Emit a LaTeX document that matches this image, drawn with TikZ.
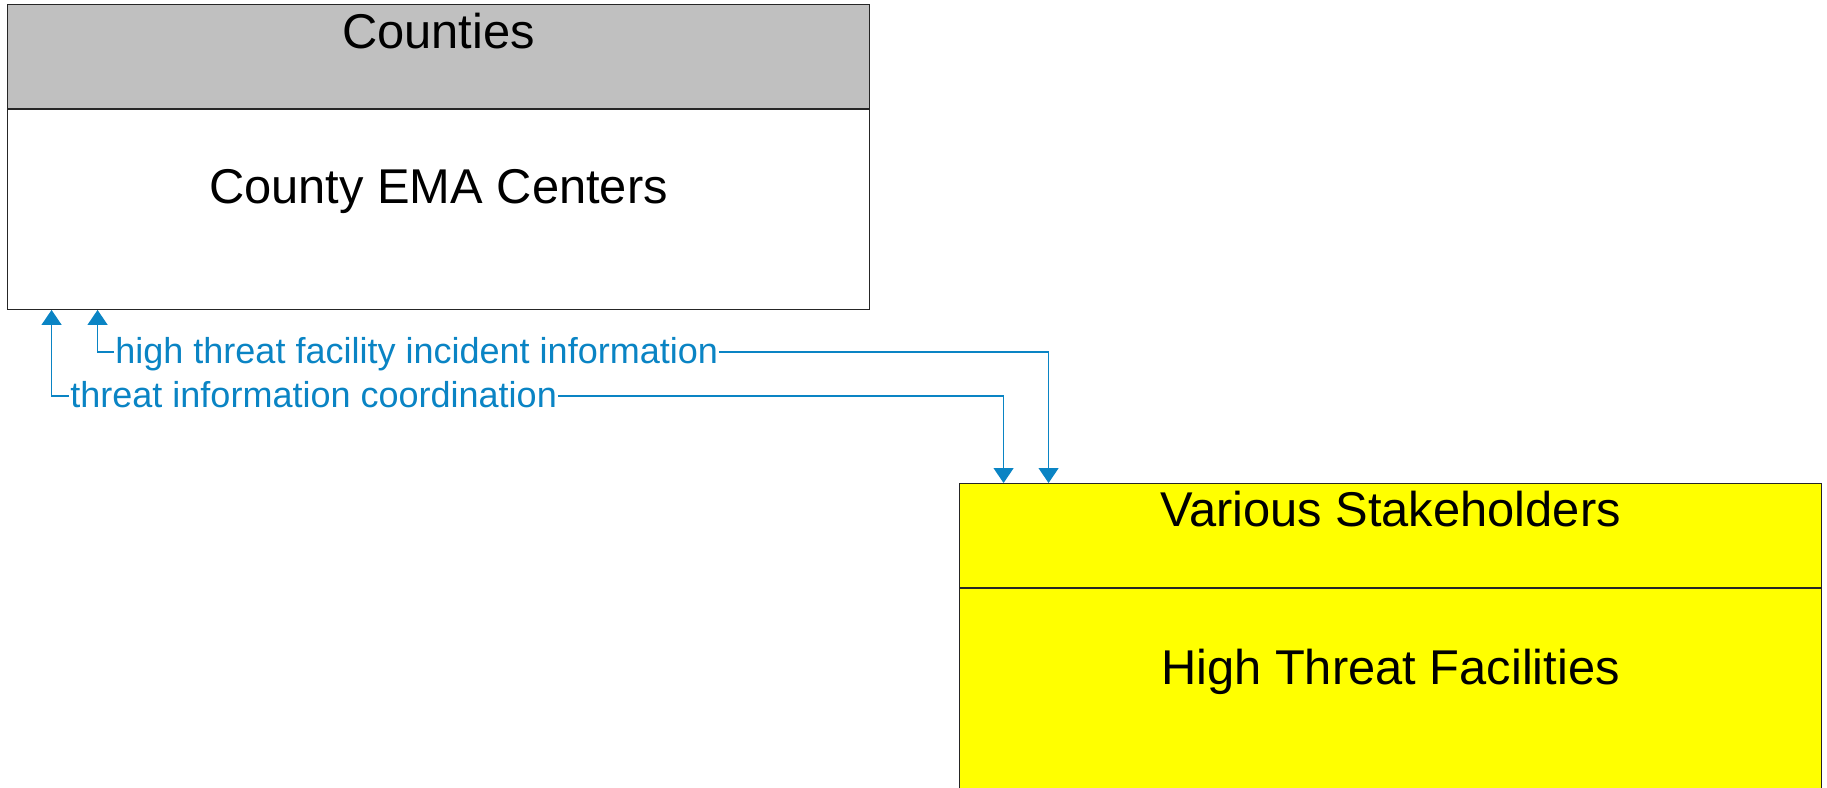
\documentclass[tikz,border=0pt]{standalone}
\usepackage{fontspec}
\setmainfont{Liberation Sans}
\usetikzlibrary{arrows.meta,positioning}
\begin{document}
\begin{tikzpicture}[x=0.02cm,y=-0.02cm,line width=0.57pt,
    part/.style={draw=black!85,minimum width=17.26cm,inner sep=0pt,anchor=north},
    hdr/.style={part,minimum height=2.08cm},
    body/.style={part,minimum height=4.0cm},
    boxtext/.style={font=\fontsize{27.8}{30}\selectfont,inner sep=0pt},
    flow/.style={flowblue,line width=0.75pt,-{Triangle[width=0.4cm,length=0.3cm]}},
    flowlabel/.style={flowblue,font=\fontsize{20.5}{23}\selectfont,inner sep=0.5pt,
      text height=0.59cm,text depth=0.15cm,anchor=west}]
  \definecolor{hdrgray}{HTML}{C0C0C0}
  \definecolor{stkyellow}{HTML}{FFFF00}
  \definecolor{flowblue}{HTML}{0A84C4}
  \useasboundingbox (0,0) rectangle (1827,788);
  % county side
  \node[hdr,fill=hdrgray] (cnty) at (438.5,4) {};
  \node[body,fill=white,below=0pt of cnty] (ema) {};
  \node[boxtext] (cntyname) at ([yshift=-0.54cm]cnty.north) {Counties};
  \node[boxtext] (emaname) at ([yshift=-1.66cm]ema.north) {County EMA Centers};
  % stakeholder side
  \node[hdr,fill=stkyellow] (stk) at (1390.5,483) {};
  \node[body,fill=stkyellow,below=0pt of stk] (htf) {};
  \node[boxtext] (stkname) at ([yshift=-0.52cm]stk.north) {Various Stakeholders};
  \node[boxtext] (htfname) at ([yshift=-1.68cm]htf.north) {High Threat Facilities};
  % flows
  \node[flowlabel] (hi) at (114,352) {high threat facility incident information};
  \node[flowlabel] (ti) at (69,396) {threat information coordination};
  \draw[flow] (hi.west) -| ([xshift=1.82cm]ema.south west);
  \draw[flow] (hi.east) -| ([xshift=1.8cm]htf.north west |- stk.north);
  \draw[flow] (ti.west) -| ([xshift=0.9cm]ema.south west);
  \draw[flow] (ti.east) -| ([xshift=0.9cm]stk.north west);
\end{tikzpicture}
\end{document}
